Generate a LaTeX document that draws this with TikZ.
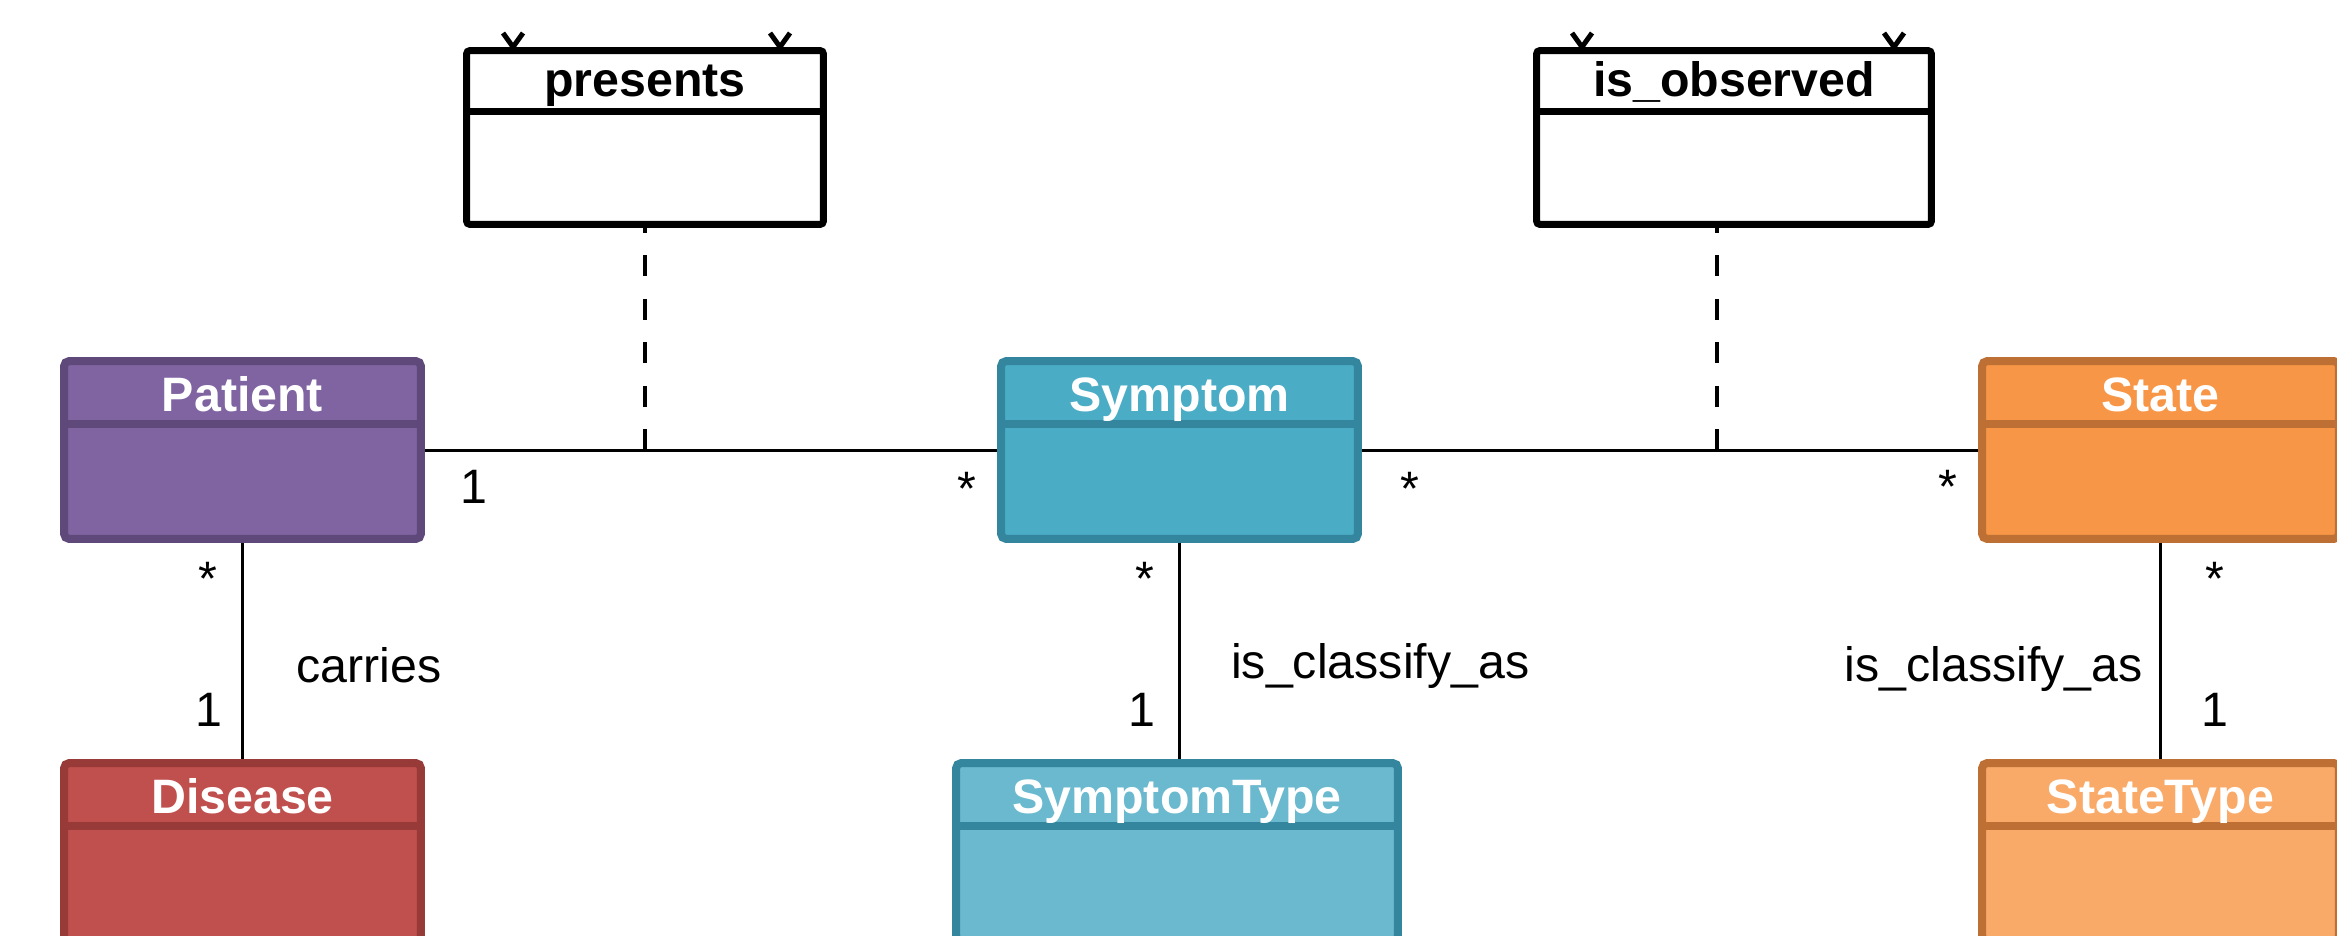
\documentclass[tikz,border=0pt]{standalone}
\usepackage{fontspec}
\setmainfont{Liberation Sans}
\usepackage{tikz}
\usetikzlibrary{calc, positioning}
\definecolor{patientfill}{RGB}{128, 100, 162}
\definecolor{patientedge}{RGB}{95, 73, 122}
\definecolor{diseasefill}{RGB}{192, 80, 77}
\definecolor{diseaseedge}{RGB}{152, 58, 56}
\definecolor{symptomfill}{RGB}{75, 172, 198}
\definecolor{symptomedge}{RGB}{52, 134, 158}
\definecolor{stypefill}{RGB}{106, 185, 207}
\definecolor{statefill}{RGB}{247, 150, 70}
\definecolor{stateedge}{RGB}{190, 112, 52}
\definecolor{sttypefill}{RGB}{249, 170, 105}

\begin{document}
\begin{tikzpicture}[
    x=0.02cm, y=-0.02cm,
    cls/.style={rectangle, rounded corners=3pt, line width=0.16cm,
                minimum width=7.14cm, minimum height=3.56cm, inner sep=0pt},
    assocls/.style={rectangle, draw=black, fill=white, line width=0.14cm,
                    rounded corners=2pt, minimum height=3.48cm, inner sep=0pt},
    clsname/.style={anchor=base, text=white, font=\fontsize{27.5}{33}\selectfont\bfseries},
    assocname/.style={anchor=base, text=black, font=\fontsize{27.5}{33}\selectfont\bfseries},
    mult/.style={anchor=base, font=\fontsize{27.5}{33}\selectfont},
    divider/.style={line width=0.17cm},
    assoc/.style={line width=0.06cm, black},
    cutend/.style={line width=0.1cm, black},
    assocdash/.style={line width=0.08cm, black, dash pattern=on 0.42cm off 0.45cm}
]

\useasboundingbox (0,0) rectangle (2337,936);
\clip (0,0) rectangle (2337,936);
\fill[white] (0,0) rectangle (2337,936);

%% Association classes
\node[assocls, minimum width=7.14cm] (presents) at (645,137.5) {};
\node[assocls, minimum width=7.9cm]  (observed) at (1734,137.5) {};
\draw[line width=0.14cm] ($(presents.north west)+(0,64.5)$) -- ($(presents.north east)+(0,64.5)$);
\draw[line width=0.14cm] ($(observed.north west)+(0,64.5)$) -- ($(observed.north east)+(0,64.5)$);
\node[assocname] (presentsname) at ($(presents.north)+(0,49.5)$) {presents};
\node[assocname] (observedname) at ($(observed.north)+(0,49.5)$) {is\_observed};

%% Cut-off ends above the association classes
\draw[cutend] (503,33) -- (513,47) -- (523,33);
\draw[cutend] (770,33) -- (780,47) -- (790,33);
\draw[cutend] (1572,33) -- (1582,47) -- (1592,33);
\draw[cutend] (1884,33) -- (1894,47) -- (1904,33);

%% Classes
\node[cls, draw=patientedge, fill=patientfill] (patient)   at (242.5,450) {};
\node[cls, draw=symptomedge, fill=symptomfill] (symptom)   at (1179.5,450) {};
\node[cls, draw=stateedge,   fill=statefill]   (state)     at (2160.5,450) {};
\node[cls, draw=diseaseedge, fill=diseasefill] (disease)   at (242.5,852) {};
\node[cls, draw=symptomedge, fill=stypefill, minimum width=8.84cm]
      (symptype)  at (1177,852) {};
\node[cls, draw=stateedge,   fill=sttypefill]  (statetype) at (2160.5,852) {};

%% Header dividers
\draw[divider, patientedge] ($(patient.north west)+(0,67)$)   -- ($(patient.north east)+(0,67)$);
\draw[divider, symptomedge] ($(symptom.north west)+(0,67)$)   -- ($(symptom.north east)+(0,67)$);
\draw[divider, stateedge]   ($(state.north west)+(0,67)$)     -- ($(state.north east)+(0,67)$);
\draw[divider, diseaseedge] ($(disease.north west)+(0,67)$)   -- ($(disease.north east)+(0,67)$);
\draw[divider, symptomedge] ($(symptype.north west)+(0,67)$)  -- ($(symptype.north east)+(0,67)$);
\draw[divider, stateedge]   ($(statetype.north west)+(0,67)$) -- ($(statetype.north east)+(0,67)$);

%% Class names
\node[clsname] (patientname)   at ($(patient.north)+(0,54)$)   {Patient};
\node[clsname] (symptomname)   at ($(symptom.north)+(0,54)$)   {Symptom};
\node[clsname] (statename)     at ($(state.north)+(0,54)$)     {State};
\node[clsname] (diseasename)   at ($(disease.north)+(0,54)$)   {Disease};
\node[clsname] (symptypename)  at ($(symptype.north)+(0,54)$)  {SymptomType};
\node[clsname] (statetypename) at ($(statetype.north)+(0,54)$) {StateType};

%% Associations
\draw[assoc] (patient.east) -- (symptom.west);
\draw[assoc] (symptom.east) -- (state.west);
\draw[assoc] (patient.south) -- (disease.north);
\draw[assoc] (symptom.south) -- (symptom.south |- symptype.north);
\draw[assoc] (state.south) -- (statetype.north);

%% Links to the association classes
\coordinate (pa) at (645,450);
\coordinate (ob) at (1717,450);
\draw[assocdash] (pa) -- (presents.south);
\draw[assocdash] (ob) -- (ob |- observed.south);

%% Multiplicities
\node[mult] (m1)  at (474,503)  {1};
\node[mult] (m2)  at (967,505)  {*};
\node[mult] (m3)  at (1410,505) {*};
\node[mult] (m4)  at (1948,503) {*};
\node[mult] (m5)  at (208,595)  {*};
\node[mult] (m6)  at (209,726)  {1};
\node[mult] (m7)  at (1145,595) {*};
\node[mult] (m8)  at (1142,726) {1};
\node[mult] (m9)  at (2215,595) {*};
\node[mult] (m10) at (2215,726) {1};

%% Role names
\node[mult, anchor=base west] (carries) at (290,682)  {carries};
\node[mult, anchor=base west] (classA)  at (1225,678) {is\_classify\_as};
\node[mult, anchor=base east] (classB)  at (2149,681) {is\_classify\_as};

\end{tikzpicture}
\end{document}
